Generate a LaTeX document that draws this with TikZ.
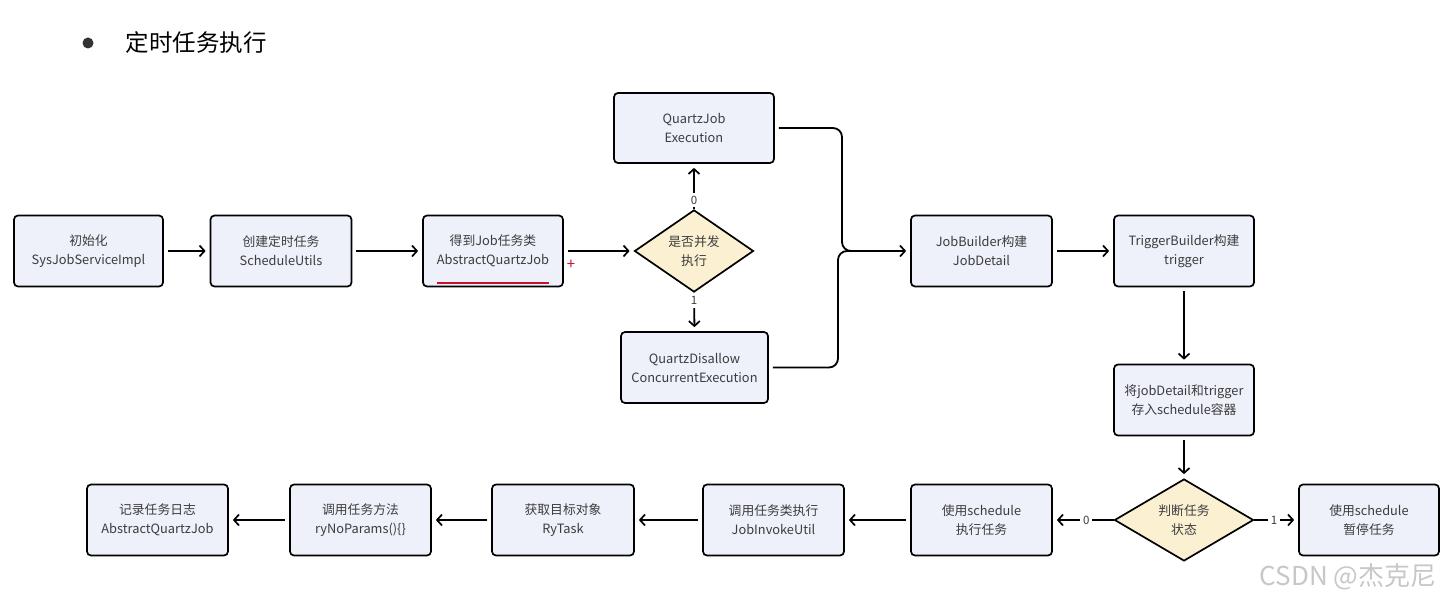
\documentclass[tikz,border=0pt]{standalone}
\usepackage{fontspec}
\setmainfont{Noto Sans CJK SC}
\usetikzlibrary{arrows.meta,shapes.geometric}
\definecolor{boxfill}{HTML}{EEF1FA}
\definecolor{decfill}{HTML}{FCF0D2}
\definecolor{txt}{HTML}{3C3C3C}
\definecolor{redmark}{HTML}{C8102E}
\begin{document}
\begin{tikzpicture}[x=1pt,y=-1pt,
  box/.style={draw, line width=1.7pt, rounded corners=4pt, fill=boxfill, text=txt,
    align=center, font=\fontsize{12.8}{19}\selectfont, inner sep=0pt,
    minimum width=141pt, minimum height=71pt},
  decision/.style={diamond, draw, line width=1.7pt, fill=decfill, text=txt,
    align=center, font=\fontsize{12.8}{19}\selectfont, inner sep=0pt,
    minimum width=119pt, minimum height=76pt},
  line/.style={line width=1.8pt, shorten <=4pt, shorten >=4pt},
  flow/.style={line, -{Straight Barb[length=5pt,width=11pt,line width=1.7pt]}},
  lbl/.style={fill=white, text=txt, inner sep=3pt, font=\fontsize{11.5}{11.5}\selectfont}]
  \useasboundingbox (0,0) rectangle (1443,602);

  % Title
  \fill[black!80] (88,43) circle (5.5);
  \node[anchor=west, font=\fontsize{23.5}{23.5}\selectfont] (title) at (122,43) {定时任务执行};

  % Top row
  \node[box, minimum width=149pt] (init) at (88.5,251) {初始化\\SysJobServiceImpl};
  \node[box] (create) at (281,251) {创建定时任务\\ScheduleUtils};
  \node[box, minimum width=140pt] (getjob) at (493,251) {得到Job任务类\\AbstractQuartzJob};
  \node[decision] (concur) at (694,251) {是否并发\\执行};
  \node[box, minimum width=160pt, minimum height=70pt] (qjob) at (694,128) {QuartzJob\\Execution};
  \node[box, minimum width=147pt] (qdis) at (694.5,367.5) {QuartzDisallow\\ConcurrentExecution};
  \node[box] (jobb) at (981.5,251) {JobBuilder构建\\JobDetail};
  \node[box, minimum width=140pt] (trigb) at (1184,251) {TriggerBuilder构建\\trigger};
  \coordinate (brace) at (842,251);

  % Right column
  \node[box, minimum width=140pt] (store) at (1184,400) {将jobDetail和trigger\\存入schedule容器};
  \node[decision, minimum width=139pt, minimum height=72pt] (state) at (1184,520) {判断任务\\状态};
  \node[box, minimum width=140pt] (pause) at (1369,520) {使用schedule\\暂停任务};

  % Bottom row
  \node[box] (exec) at (981.5,520) {使用schedule\\执行任务};
  \node[box] (invoke) at (773.5,520) {调用任务类执行\\JobInvokeUtil};
  \node[box, minimum width=142pt] (target) at (563,520) {获取目标对象\\RyTask};
  \node[box] (method) at (360.5,520) {调用任务方法\\ryNoParams()\{\}};
  \node[box] (logjob) at (157.5,520) {记录任务日志\\AbstractQuartzJob};

  % Marks on the job class box
  \draw[redmark, line width=1.7pt] (437,283) -- (549,283);
  \node[text=redmark, font=\fontsize{15}{15}\selectfont, inner sep=0pt] (plus) at (571,265) {+};

  % Connectors
  \draw[flow] (init) -- (create);
  \draw[flow] (create) -- (getjob);
  \draw[flow] (getjob) -- (concur);
  \draw[flow, shorten <=0pt] (concur.north) -- node[lbl, pos=0.2] {0} (qjob.south);
  \draw[flow, shorten <=0pt] (concur.south) -- node[lbl, pos=0.2] {1} (qdis.north);
  \draw[flow, rounded corners=9pt] (qjob.east) -| (brace) -- (jobb.west);
  \draw[line, rounded corners=9pt, shorten >=0pt] (qdis.east) -| ([xshift=-4pt]brace) -- ++(12,0);
  \draw[flow] (jobb) -- (trigb);
  \draw[flow] (trigb) -- (store);
  \draw[flow] (store) -- (state);
  \draw[flow, shorten <=0pt] (state.west) -- node[lbl, pos=0.45] {0} (exec.east);
  \draw[flow, shorten <=0pt] (state.east) -- node[lbl, pos=0.45] {1} (pause.west);
  \draw[flow] (exec) -- (invoke);
  \draw[flow] (invoke) -- (target);
  \draw[flow] (target) -- (method);
  \draw[flow] (method) -- (logjob);

  % Watermark
  \node[anchor=east, text=black!22, font=\fontsize{26}{26}\selectfont] (wm) at (1440,577) {CSDN @杰克尼};
\end{tikzpicture}
\end{document}
